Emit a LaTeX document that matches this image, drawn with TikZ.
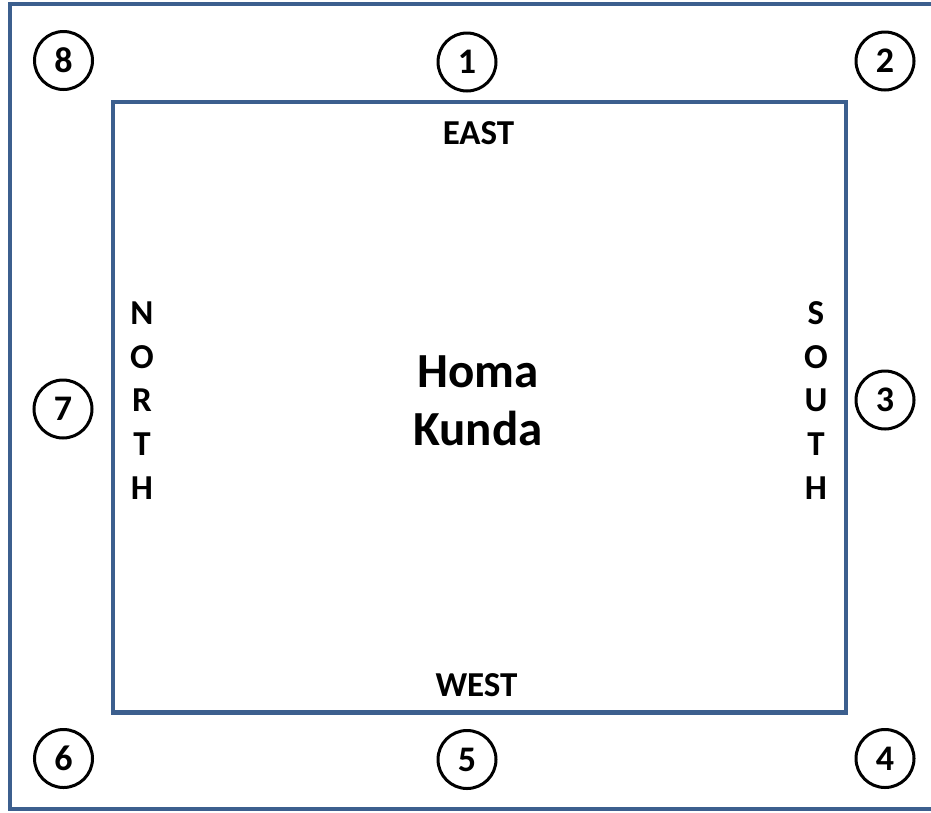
\documentclass[tikz,border=0pt]{standalone}
\usepackage{fontspec}
\setmainfont{Carlito}
\definecolor{frameblue}{RGB}{60,95,142}
\begin{document}
\begin{tikzpicture}[x=1pt,y=-1pt,
  frame/.style={draw=frameblue,line width=4.6pt},
  num/.style={circle,draw=black,line width=3pt,minimum size=58pt,inner sep=0pt,
    font=\fontsize{36}{40}\selectfont\bfseries},
  dirlabel/.style={inner sep=0pt,align=center,font=\fontsize{35}{43.75}\selectfont\bfseries},
  title/.style={inner sep=0pt,align=center,font=\fontsize{49}{58}\selectfont\bfseries}]
\useasboundingbox (0,0) rectangle (931,812);
\clip (0,0) rectangle (931,812);
\fill[white] (0,0) rectangle (931,812);
% frames
\draw[frame] (10,4) rectangle (945,809);
\draw[frame] (113,102) rectangle (846,712.5);
% direction labels
\node[dirlabel,anchor=base] (east) at (478.5,144) {EAST};
\node[dirlabel,anchor=base] (west) at (476.5,696) {WEST};
\node[dirlabel] (north) at (142,400.5) {N\\O\\R\\T\\H};
\node[dirlabel] (south) at (816,400.5) {S\\O\\U\\T\\H};
% centre
\node[title] (homa) at (478,401) {Homa\\Kunda};
% numbered circles
\node[num] (c1) at (467,62) {1};
\node[num] (c2) at (885,61) {2};
\node[num] (c3) at (885,400) {3};
\node[num] (c4) at (885,758.5) {4};
\node[num] (c5) at (467,759.5) {5};
\node[num] (c6) at (63.5,758.5) {6};
\node[num] (c7) at (63,409) {7};
\node[num] (c8) at (63.5,60.5) {8};
\end{tikzpicture}
\end{document}
